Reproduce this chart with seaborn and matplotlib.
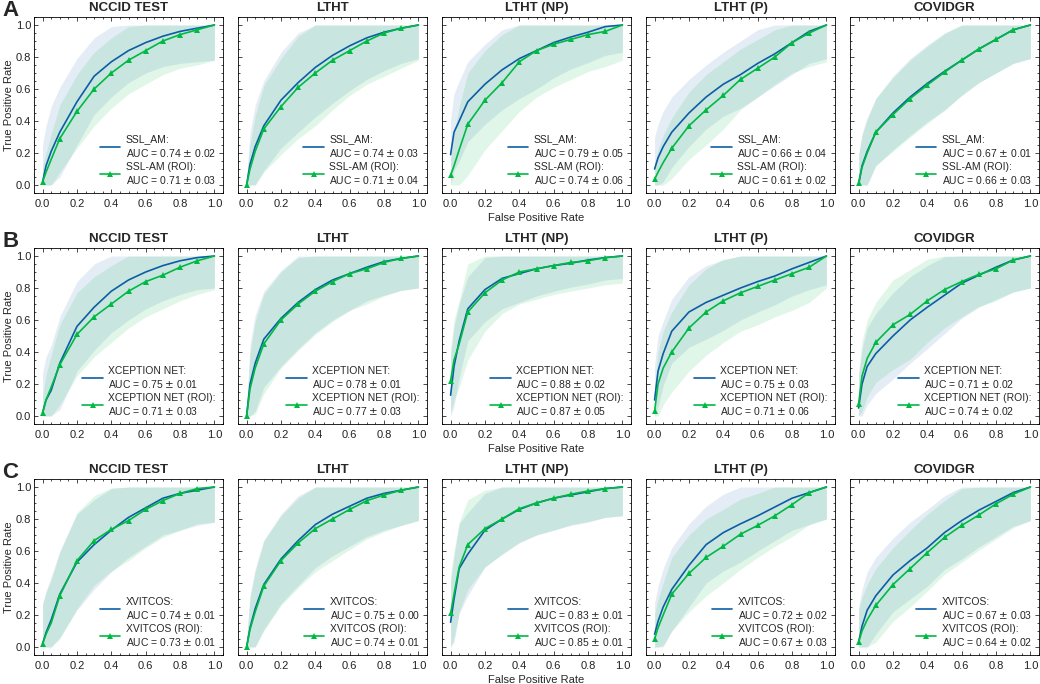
import numpy as np
import matplotlib
matplotlib.use("Agg")
import matplotlib.pyplot as plt
from matplotlib.ticker import AutoMinorLocator
import seaborn as sns

# false positive rate grid the curves were read at
fpr = [0.0, 0.02, 0.05, 0.1, 0.2, 0.3, 0.4, 0.5, 0.6, 0.7, 0.8, 0.9, 1.0]

datasets = ["NCCID TEST", "LTHT", "LTHT (NP)", "LTHT (P)", "COVIDGR"]
row_labels = ["A", "B", "C"]
base_names = ["SSL_AM", "XCEPTION NET", "XVITCOS"]
roi_names = ["SSL-AM (ROI)", "XCEPTION NET (ROI)", "XVITCOS (ROI)"]

auc_base = [[0.74, 0.74, 0.79, 0.66, 0.67],
            [0.75, 0.78, 0.88, 0.75, 0.71],
            [0.74, 0.75, 0.83, 0.72, 0.67]]
auc_base_sd = [[0.02, 0.03, 0.05, 0.04, 0.01],
               [0.01, 0.01, 0.02, 0.03, 0.02],
               [0.01, 0.00, 0.01, 0.02, 0.03]]
auc_roi = [[0.71, 0.71, 0.74, 0.61, 0.66],
           [0.71, 0.77, 0.87, 0.71, 0.74],
           [0.73, 0.74, 0.85, 0.67, 0.64]]
auc_roi_sd = [[0.03, 0.04, 0.06, 0.02, 0.03],
              [0.03, 0.03, 0.05, 0.06, 0.02],
              [0.01, 0.01, 0.01, 0.03, 0.02]]

# row A: SSL_AM
tpr_base_A = [
    [0.02, 0.12, 0.21, 0.33, 0.52, 0.68, 0.77, 0.84, 0.89, 0.93, 0.96, 0.98, 1.0],
    [0.0, 0.13, 0.24, 0.37, 0.53, 0.64, 0.735, 0.81, 0.87, 0.92, 0.955, 0.98, 1.0],
    [0.19, 0.33, 0.40, 0.52, 0.63, 0.72, 0.79, 0.84, 0.89, 0.925, 0.955, 0.99, 1.0],
    [0.10, 0.17, 0.24, 0.33, 0.45, 0.55, 0.63, 0.69, 0.76, 0.82, 0.89, 0.96, 1.0],
    [0.0, 0.12, 0.21, 0.33, 0.45, 0.55, 0.635, 0.71, 0.78, 0.85, 0.91, 0.97, 1.0],
]
tpr_roi_A = [
    [0.02, 0.08, 0.16, 0.29, 0.46, 0.60, 0.70, 0.78, 0.84, 0.90, 0.94, 0.97, 1.0],
    [0.0, 0.10, 0.21, 0.35, 0.49, 0.61, 0.70, 0.78, 0.84, 0.90, 0.95, 0.98, 1.0],
    [0.06, 0.12, 0.22, 0.38, 0.53, 0.64, 0.77, 0.84, 0.88, 0.91, 0.94, 0.96, 1.0],
    [0.035, 0.08, 0.14, 0.23, 0.37, 0.47, 0.56, 0.66, 0.73, 0.80, 0.89, 0.95, 1.0],
    [0.015, 0.11, 0.20, 0.33, 0.44, 0.54, 0.625, 0.705, 0.78, 0.85, 0.91, 0.97, 1.0],
]
sd_base_A = [
    [0.23, 0.25, 0.28, 0.28, 0.27, 0.24, 0.22, 0.20, 0.19, 0.19, 0.20, 0.21, 0.22],
    [0.05, 0.20, 0.26, 0.28, 0.30, 0.31, 0.31, 0.30, 0.28, 0.26, 0.24, 0.22, 0.21],
    [0.22, 0.24, 0.25, 0.25, 0.25, 0.25, 0.25, 0.24, 0.22, 0.20, 0.19, 0.18, 0.17],
    [0.20, 0.21, 0.22, 0.22, 0.21, 0.20, 0.20, 0.21, 0.21, 0.20, 0.20, 0.20, 0.21],
    [0.18, 0.20, 0.21, 0.21, 0.23, 0.24, 0.24, 0.24, 0.22, 0.21, 0.21, 0.21, 0.21],
]
sd_roi_A = [
    [0.10, 0.12, 0.16, 0.21, 0.23, 0.23, 0.22, 0.21, 0.21, 0.21, 0.21, 0.22, 0.22],
    [0.04, 0.15, 0.22, 0.27, 0.30, 0.32, 0.33, 0.31, 0.28, 0.27, 0.27, 0.25, 0.22],
    [0.10, 0.20, 0.27, 0.32, 0.31, 0.30, 0.31, 0.29, 0.27, 0.25, 0.23, 0.22, 0.22],
    [0.10, 0.14, 0.17, 0.19, 0.21, 0.22, 0.21, 0.19, 0.18, 0.17, 0.19, 0.21, 0.23],
    [0.18, 0.20, 0.21, 0.21, 0.23, 0.24, 0.24, 0.24, 0.22, 0.21, 0.21, 0.21, 0.21],
]

# row B: XCEPTION NET
tpr_base_B = [
    [0.02, 0.10, 0.16, 0.33, 0.56, 0.68, 0.78, 0.85, 0.90, 0.94, 0.97, 0.99, 1.0],
    [0.0, 0.20, 0.33, 0.48, 0.61, 0.71, 0.79, 0.85, 0.89, 0.93, 0.965, 0.985, 1.0],
    [0.13, 0.31, 0.47, 0.67, 0.79, 0.86, 0.89, 0.92, 0.94, 0.955, 0.975, 0.99, 1.0],
    [0.10, 0.28, 0.39, 0.53, 0.65, 0.71, 0.755, 0.80, 0.84, 0.875, 0.92, 0.96, 1.0],
    [0.05, 0.20, 0.31, 0.39, 0.50, 0.60, 0.68, 0.755, 0.83, 0.88, 0.93, 0.975, 1.0],
]
tpr_roi_B = [
    [0.02, 0.10, 0.18, 0.32, 0.51, 0.62, 0.70, 0.78, 0.84, 0.88, 0.93, 0.97, 1.0],
    [0.0, 0.17, 0.30, 0.45, 0.60, 0.70, 0.78, 0.84, 0.89, 0.92, 0.96, 0.985, 1.0],
    [0.22, 0.35, 0.45, 0.65, 0.77, 0.85, 0.90, 0.92, 0.94, 0.96, 0.97, 0.99, 1.0],
    [0.03, 0.20, 0.30, 0.40, 0.55, 0.65, 0.72, 0.77, 0.81, 0.85, 0.89, 0.93, 1.0],
    [0.075, 0.25, 0.36, 0.46, 0.57, 0.635, 0.72, 0.79, 0.84, 0.885, 0.92, 0.975, 1.0],
]
sd_base_B = [
    [0.25, 0.27, 0.28, 0.29, 0.28, 0.27, 0.26, 0.25, 0.23, 0.22, 0.21, 0.20, 0.20],
    [0.05, 0.25, 0.30, 0.30, 0.30, 0.29, 0.27, 0.25, 0.23, 0.21, 0.21, 0.20, 0.20],
    [0.25, 0.25, 0.23, 0.20, 0.20, 0.19, 0.18, 0.17, 0.16, 0.15, 0.15, 0.14, 0.14],
    [0.22, 0.22, 0.20, 0.20, 0.22, 0.23, 0.22, 0.20, 0.19, 0.18, 0.17, 0.17, 0.18],
    [0.20, 0.22, 0.24, 0.25, 0.27, 0.27, 0.26, 0.24, 0.22, 0.20, 0.20, 0.20, 0.20],
]
sd_roi_B = [
    [0.10, 0.16, 0.20, 0.25, 0.26, 0.25, 0.24, 0.23, 0.22, 0.21, 0.21, 0.21, 0.21],
    [0.05, 0.22, 0.29, 0.31, 0.30, 0.29, 0.27, 0.25, 0.23, 0.22, 0.21, 0.20, 0.20],
    [0.20, 0.25, 0.27, 0.30, 0.24, 0.21, 0.20, 0.19, 0.18, 0.18, 0.17, 0.17, 0.17],
    [0.15, 0.20, 0.23, 0.25, 0.27, 0.27, 0.26, 0.24, 0.24, 0.23, 0.23, 0.22, 0.20],
    [0.20, 0.22, 0.24, 0.25, 0.28, 0.28, 0.26, 0.24, 0.22, 0.20, 0.20, 0.20, 0.20],
]

# row C: XVITCOS
tpr_base_C = [
    [0.02, 0.09, 0.17, 0.33, 0.53, 0.64, 0.73, 0.81, 0.87, 0.93, 0.96, 0.98, 1.0],
    [0.0, 0.12, 0.24, 0.39, 0.55, 0.665, 0.765, 0.83, 0.88, 0.93, 0.96, 0.98, 1.0],
    [0.155, 0.30, 0.49, 0.58, 0.73, 0.80, 0.86, 0.90, 0.93, 0.95, 0.97, 0.99, 1.0],
    [0.08, 0.16, 0.25, 0.36, 0.51, 0.64, 0.715, 0.77, 0.82, 0.875, 0.93, 0.965, 1.0],
    [0.03, 0.13, 0.23, 0.32, 0.45, 0.54, 0.62, 0.715, 0.79, 0.855, 0.91, 0.965, 1.0],
]
tpr_roi_C = [
    [0.02, 0.08, 0.15, 0.32, 0.54, 0.665, 0.735, 0.79, 0.86, 0.915, 0.96, 0.99, 1.0],
    [0.0, 0.11, 0.22, 0.38, 0.54, 0.65, 0.74, 0.80, 0.86, 0.915, 0.95, 0.98, 1.0],
    [0.21, 0.33, 0.50, 0.64, 0.74, 0.80, 0.865, 0.90, 0.93, 0.955, 0.975, 0.99, 1.0],
    [0.05, 0.12, 0.20, 0.33, 0.46, 0.56, 0.63, 0.705, 0.76, 0.82, 0.89, 0.965, 1.0],
    [0.03, 0.10, 0.17, 0.26, 0.39, 0.49, 0.59, 0.685, 0.76, 0.825, 0.895, 0.955, 1.0],
]
sd_base_C = [
    [0.25, 0.26, 0.27, 0.27, 0.30, 0.28, 0.26, 0.25, 0.24, 0.23, 0.23, 0.22, 0.22],
    [0.05, 0.20, 0.25, 0.28, 0.28, 0.28, 0.27, 0.26, 0.25, 0.24, 0.23, 0.22, 0.21],
    [0.25, 0.27, 0.28, 0.26, 0.23, 0.22, 0.21, 0.20, 0.20, 0.19, 0.19, 0.18, 0.18],
    [0.20, 0.22, 0.24, 0.26, 0.26, 0.24, 0.24, 0.24, 0.22, 0.21, 0.20, 0.20, 0.20],
    [0.22, 0.23, 0.24, 0.24, 0.23, 0.24, 0.24, 0.23, 0.24, 0.23, 0.22, 0.21, 0.21],
]
sd_roi_C = [
    [0.25, 0.26, 0.27, 0.27, 0.30, 0.28, 0.26, 0.25, 0.24, 0.23, 0.23, 0.22, 0.22],
    [0.05, 0.20, 0.25, 0.28, 0.28, 0.28, 0.27, 0.26, 0.25, 0.24, 0.23, 0.22, 0.21],
    [0.25, 0.27, 0.28, 0.28, 0.24, 0.22, 0.21, 0.20, 0.20, 0.19, 0.19, 0.18, 0.18],
    [0.15, 0.18, 0.20, 0.23, 0.24, 0.24, 0.23, 0.22, 0.20, 0.19, 0.20, 0.20, 0.20],
    [0.20, 0.21, 0.22, 0.23, 0.23, 0.24, 0.24, 0.23, 0.23, 0.22, 0.22, 0.21, 0.21],
]

tpr_base = [tpr_base_A, tpr_base_B, tpr_base_C]
tpr_roi = [tpr_roi_A, tpr_roi_B, tpr_roi_C]
sd_base = [sd_base_A, sd_base_B, sd_base_C]
sd_roi = [sd_roi_A, sd_roi_B, sd_roi_C]

blue = "#0C5DA5"
green = "#00B945"

sns.set_theme(style="ticks")
plt.rcParams["font.family"] = ["Liberation Sans", "DejaVu Sans"]
plt.rcParams["mathtext.fontset"] = "dejavusans"
plt.rcParams.update({
    "xtick.direction": "in", "ytick.direction": "in",
    "xtick.top": True, "ytick.right": True,
    "xtick.major.size": 3, "ytick.major.size": 3,
    "xtick.minor.size": 1.5, "ytick.minor.size": 1.5,
    "xtick.major.width": 0.5, "ytick.major.width": 0.5,
    "xtick.minor.width": 0.5, "ytick.minor.width": 0.5,
    "axes.linewidth": 0.6, "axes.edgecolor": "black",
    "xtick.labelsize": 8, "ytick.labelsize": 8,
    "xtick.major.pad": 4, "ytick.major.pad": 2,
})

fig = plt.figure(figsize=(10.4, 6.84), dpi=100)

W, H = 1040, 684
col_left = [34 + 204 * i for i in range(5)]
row_top = [17, 248, 479]
ax_w, ax_h = 189, 176
mark_idx = [0, 3, 4, 5, 6, 7, 8, 9, 10, 11]
x = np.array(fpr)

for r in range(3):
    for c in range(5):
        ax = fig.add_axes([col_left[c] / W, 1 - (row_top[r] + ax_h) / H, ax_w / W, ax_h / H])
        yb = np.array(tpr_base[r][c])
        yr = np.array(tpr_roi[r][c])
        sb = np.array(sd_base[r][c])
        sr = np.array(sd_roi[r][c])

        ax.fill_between(x, np.clip(yb - sb, 0, 1), np.clip(yb + sb, 0, 1),
                        color=blue, alpha=0.11, linewidth=0)
        ax.fill_between(x, np.clip(yr - sr, 0, 1), np.clip(yr + sr, 0, 1),
                        color=green, alpha=0.12, linewidth=0)

        lab_b = f"{base_names[r]}:\nAUC = {auc_base[r][c]:.2f} $\\pm$ {auc_base_sd[r][c]:.2f}"
        lab_r = f"{roi_names[r]}:\nAUC = {auc_roi[r][c]:.2f} $\\pm$ {auc_roi_sd[r][c]:.2f}"
        sns.lineplot(x=x, y=yb, ax=ax, color=blue, linewidth=1.2, label=lab_b)
        sns.lineplot(x=x, y=yr, ax=ax, color=green, linewidth=1.2, marker="^",
                     markersize=5, markeredgewidth=0, markevery=mark_idx, label=lab_r)

        ax.set_xlim(-0.05, 1.05)
        ax.set_ylim(-0.05, 1.05)
        ax.set_xticks([0, 0.2, 0.4, 0.6, 0.8, 1.0])
        ax.set_yticks([0, 0.2, 0.4, 0.6, 0.8, 1.0])
        ax.xaxis.set_minor_locator(AutoMinorLocator(4))
        ax.yaxis.set_minor_locator(AutoMinorLocator(4))
        ax.tick_params(which="both", colors="black", labelcolor="#222222")
        if c > 0:
            ax.set_yticklabels([])
            ax.set_ylabel("")
        else:
            ax.set_ylabel("True Positive Rate", fontsize=8, labelpad=1)
        if c == 2:
            ax.set_xlabel("False Positive Rate", fontsize=8, labelpad=3)
        else:
            ax.set_xlabel("")
        ax.set_title(datasets[c], fontsize=9.5, fontweight="bold", pad=4)
        ax.legend(loc="lower right", frameon=False, fontsize=7.5, handlelength=2.0,
                  handletextpad=0.5, labelspacing=0.3, borderaxespad=0.3)

    fig.text(2 / W, 1 - (row_top[r] - 17) / H, row_labels[r], fontsize=16,
             fontweight="bold", va="top", ha="left")

fig.savefig("out.png", dpi=100)
